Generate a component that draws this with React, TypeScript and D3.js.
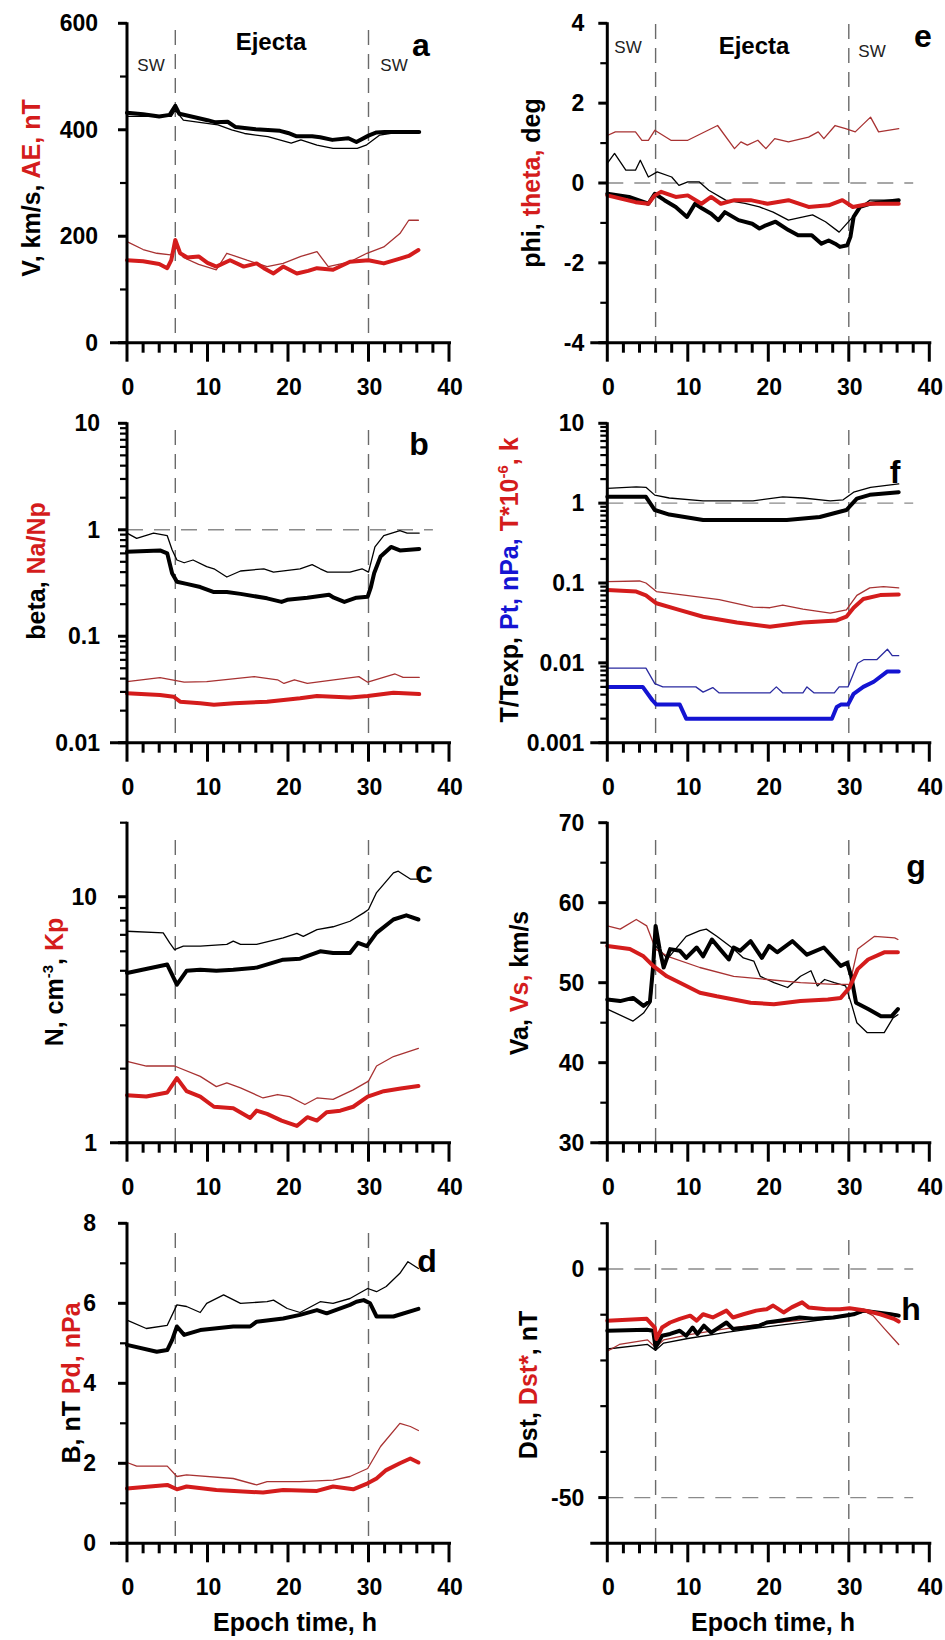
import React from "react";
import * as d3 from "d3";

type Pt = [number, number];

const FONT = "'Liberation Sans', Arial, Helvetica, sans-serif";
const BLACK = "#000000";
const RED = "#d41c1c";
const RED_THIN = "#a83232";
const BLUE = "#1414d2";
const BLUE_THIN = "#2a2aa0";

// Epoch axis
const epochTicks = [0, 10, 20, 30, 40];
const epochLabels = ["0", "10", "20", "30", "40"];
const boundaries = [6, 30];

// ---- Panel a: V (black), AE (red)
const vThick: Pt[] = [[0,432],[2,429],[4,425],[5.3,428],[6,445],[6.5,430],[8,425],[10,418],[11,414],[12.5,415],[13.5,405],[16,401],[19,398],[20,394],[21,388],[23,388],[24,386],[25.5,381],[27.5,384],[28.5,377],[30,389],[31,395],[32,396],[36.3,396]];
const vThin: Pt[] = [[0,425],[5.5,425],[6,437],[7,418],[9,414],[11.3,409],[13,400],[14.6,393],[17.5,387],[20.4,375],[21.6,381],[23.6,371],[25.6,365],[28.6,365],[29.7,371],[31.4,390],[32.6,393],[34,396],[36.3,396]];
const aeThick: Pt[] = [[0,155],[2,153],[4,148],[5,140],[5.5,155],[6,193],[6.6,168],[7.5,160],[8.9,162],[10,150],[11.1,143],[12.8,155],[14.5,143],[16.1,149],[17,140],[18.2,130],[19.4,143],[21.1,130],[22.5,135],[23.6,140],[25.6,137],[27.7,152],[30,155],[31.9,149],[33.9,158],[35,163],[36.2,174]];
const aeThin: Pt[] = [[0,190],[2,175],[3.7,168],[5.4,165],[6.2,180],[7,160],[8.9,147],[11.1,137],[12.4,168],[14.9,155],[17.4,143],[19.4,149],[21.6,162],[23.6,171],[25,143],[27.7,152],[29.8,168],[31.9,180],[33.9,205],[35,230],[36.2,230]];

// ---- Panel b: beta (black), Na/Np (red)
const betaThick: Pt[] = [[0,0.62],[4.1,0.64],[5,0.6],[5.6,0.39],[6.2,0.325],[7.4,0.31],[9.1,0.29],[10.8,0.26],[12.4,0.26],[14.1,0.25],[17.4,0.227],[19.2,0.21],[19.9,0.22],[22.4,0.23],[25.1,0.245],[25.7,0.23],[27,0.21],[28.5,0.23],[29.9,0.235],[30.3,0.29],[30.7,0.39],[31.5,0.56],[32.8,0.69],[33.9,0.64],[36.3,0.66]];
const betaThin: Pt[] = [[0,0.93],[1.2,0.83],[3.3,0.93],[5,0.88],[5.6,0.65],[6.2,0.52],[7.1,0.49],[8.2,0.52],[9.9,0.45],[10.8,0.43],[12.4,0.36],[14.1,0.41],[17,0.43],[18.2,0.4],[21.5,0.43],[23,0.47],[24,0.43],[24.9,0.4],[27.7,0.4],[29.2,0.43],[30,0.4],[30.8,0.69],[31.9,0.88],[33.9,0.98],[34.8,0.93],[36.3,0.93]];
const naThick: Pt[] = [[0,0.0291],[4.1,0.028],[5.8,0.027],[6.6,0.0243],[9.1,0.0235],[10.8,0.0227],[13.3,0.0235],[17.4,0.0243],[21.5,0.0262],[23.6,0.0275],[27.7,0.0266],[29.9,0.0275],[33.1,0.0295],[36.3,0.0286]];
const naThin: Pt[] = [[0,0.0374],[4.1,0.0408],[7.1,0.037],[9.9,0.0374],[15.8,0.0417],[18.7,0.039],[19.5,0.036],[20.8,0.039],[22.4,0.036],[25.7,0.039],[28.8,0.0417],[29.9,0.037],[33.3,0.0442],[34.3,0.041],[36.3,0.041]];

// ---- Panel c: N (black), Kp (red)
const nThick: Pt[] = [[0,4.9],[5,5.3],[6.2,4.39],[7.4,5.0],[9.1,5.05],[11.1,5.0],[13.2,5.05],[16.1,5.15],[19.4,5.55],[21.5,5.6],[24,6.0],[25.6,5.9],[27.7,5.9],[28.7,6.5],[29.8,6.3],[31,7.13],[33.1,8.08],[34.7,8.4],[36.2,8.08]];
const nThin: Pt[] = [[0,7.24],[4.5,7.13],[5.3,6.49],[5.9,6.1],[7,6.3],[9.1,6.3],[12.4,6.4],[13.2,6.6],[14.1,6.4],[16.1,6.4],[19.4,6.8],[21.1,7.1],[21.9,6.9],[23.6,7.35],[25.6,7.55],[27.7,7.95],[29.4,8.6],[30,8.88],[31,10.4],[33.1,12.5],[33.7,12.7],[35.2,11.8],[36.2,11.8]];
const kpThick: Pt[] = [[0,1.56],[2.4,1.54],[5,1.6],[6.2,1.83],[7.4,1.62],[9.1,1.54],[10.8,1.4],[13.2,1.38],[15.3,1.26],[16.1,1.35],[17.4,1.31],[19.2,1.23],[21.1,1.17],[22.4,1.27],[23.6,1.23],[24.8,1.33],[26.5,1.35],[28.1,1.4],[29.9,1.54],[31.9,1.62],[34,1.66],[36.2,1.7]];
const kpThin: Pt[] = [[0,2.14],[2.4,2.05],[5.9,2.05],[9.1,1.86],[11.1,1.69],[12.4,1.75],[14.1,1.67],[16.9,1.52],[18.7,1.57],[20.2,1.54],[22.1,1.43],[23.6,1.52],[25.6,1.5],[28.1,1.64],[30,1.78],[31,2.05],[33.1,2.24],[36.2,2.42]];

// ---- Panel d: B (black), Pd (red)
const bThick: Pt[] = [[0,4.96],[3.7,4.79],[5,4.83],[5.6,5.08],[6.2,5.42],[7.1,5.21],[9.1,5.33],[13.2,5.42],[15.3,5.42],[16.1,5.54],[19.4,5.62],[21.5,5.71],[23.6,5.83],[24.8,5.75],[27.7,5.96],[28.5,6.04],[29.4,6.08],[30.2,6.0],[31,5.67],[33.1,5.67],[36.2,5.86]];
const bThin: Pt[] = [[0,5.58],[2.4,5.37],[5,5.45],[6.2,5.96],[7.4,5.92],[9.1,5.77],[9.9,6.0],[12,6.21],[14.1,6.0],[17.4,6.04],[18.2,6.08],[19.9,5.87],[21.5,5.77],[24,6.04],[25.6,6.0],[27.7,6.12],[29.9,6.37],[31,6.29],[32.2,6.42],[33.9,6.75],[34.9,7.04],[36.2,6.87]];
const pdThick: Pt[] = [[0,1.37],[5,1.46],[6.2,1.35],[7.4,1.42],[11.1,1.33],[16.9,1.27],[19.4,1.33],[23.6,1.31],[25.6,1.42],[28.1,1.35],[29.9,1.5],[31,1.62],[32.2,1.83],[33.9,2.0],[35.2,2.12],[36.2,2.02]];
const pdThin: Pt[] = [[0,2.02],[1.2,1.93],[5,1.93],[6.2,1.67],[7.4,1.71],[13.2,1.62],[16.1,1.46],[17.4,1.54],[21.5,1.54],[25.6,1.58],[27.7,1.67],[29.9,1.87],[31.5,2.42],[33.9,3.0],[35.2,2.92],[36.2,2.82]];

// ---- Panel e: phi (black), theta (red)
const phiThick: Pt[] = [[0,-0.27],[2.7,-0.35],[5.1,-0.52],[5.9,-0.27],[7.1,-0.43],[8.5,-0.6],[9.9,-0.85],[10.9,-0.52],[11.8,-0.64],[12.9,-0.77],[13.8,-0.93],[14.6,-0.73],[16.3,-0.93],[18,-1.02],[18.9,-1.14],[19.7,-1.06],[20.9,-0.97],[22.5,-1.18],[23.7,-1.31],[25.4,-1.31],[26.6,-1.52],[27.5,-1.44],[28.3,-1.52],[28.9,-1.6],[29.8,-1.56],[30.2,-1.35],[30.6,-0.85],[31.4,-0.6],[32.6,-0.52],[36.2,-0.43]];
const phiThin: Pt[] = [[0,0.49],[0.9,0.74],[2.3,0.32],[3.5,0.32],[4.1,0.57],[5.1,0.15],[6.2,0.28],[8,0.15],[8.9,-0.06],[10,0.03],[11.4,0.03],[12.6,-0.18],[14.7,-0.43],[17.1,-0.51],[18.9,-0.6],[20.6,-0.73],[22.5,-0.93],[25.5,-0.8],[27.1,-0.97],[28.8,-1.23],[30.5,-0.85],[31.2,-0.64],[32.6,-0.43],[36.2,-0.43]];
const thetaThick: Pt[] = [[0,-0.31],[3.5,-0.48],[5.1,-0.52],[5.9,-0.31],[6.7,-0.22],[8.5,-0.35],[10,-0.31],[11.7,-0.52],[12.9,-0.35],[14.1,-0.52],[15.8,-0.43],[17.8,-0.43],[19.9,-0.52],[22.5,-0.43],[25,-0.6],[27.5,-0.56],[29.2,-0.43],[30.5,-0.6],[32.6,-0.52],[36.2,-0.52]];
const thetaThin: Pt[] = [[0,1.19],[1,1.28],[3.5,1.28],[4.3,1.07],[5.1,1.07],[5.9,1.32],[7.9,1.07],[10,1.07],[13.7,1.44],[15.8,0.86],[16.6,1.03],[17.4,0.95],[18.7,1.07],[19.7,0.86],[20.8,1.11],[22.5,1.03],[25,1.15],[26.2,1.28],[26.9,1.11],[28.3,1.44],[29.6,1.36],[30.8,1.28],[32.7,1.65],[33.7,1.28],[36.2,1.36]];

// ---- Panel f: T/Texp (black), T*1e-6 (red), Pt (blue)
const ratioThick: Pt[] = [[0,1.2],[4.8,1.2],[5.9,0.82],[7.7,0.72],[11.9,0.615],[18.1,0.615],[22.3,0.615],[26.4,0.67],[29.7,0.82],[31,1.14],[32.6,1.27],[36.2,1.37]];
const ratioThin: Pt[] = [[0,1.53],[3.6,1.6],[4.8,1.58],[5.9,1.26],[7.7,1.16],[11.9,1.07],[18.1,1.07],[21.8,1.2],[24.3,1.16],[27.7,1.07],[29.3,1.1],[30.6,1.37],[32.7,1.58],[36.2,1.74]];
const tempThick: Pt[] = [[0,0.082],[3.6,0.078],[4.8,0.07],[6.1,0.0557],[8.6,0.047],[11.9,0.0378],[16.1,0.032],[20.2,0.0284],[24.3,0.032],[28.5,0.034],[29.7,0.0378],[30.6,0.049],[31.8,0.063],[33.9,0.0705],[36.2,0.072]];
const tempThin: Pt[] = [[0,0.104],[4,0.106],[4.8,0.1],[6.1,0.078],[9.8,0.07],[13.9,0.062],[18.1,0.05],[20.2,0.049],[21.8,0.053],[24.3,0.047],[27.7,0.042],[29.7,0.046],[31,0.07],[32.6,0.087],[34.3,0.09],[36.2,0.087]];
const ptThick: Pt[] = [[0,0.005],[4.4,0.005],[5.6,0.0034],[6.1,0.003],[9,0.003],[9.8,0.002],[27.9,0.002],[28.5,0.0028],[29,0.003],[29.9,0.003],[30.6,0.0041],[31.8,0.005],[33.1,0.0058],[34.8,0.0078],[36.2,0.0078]];
const ptThin: Pt[] = [[0,0.0086],[4.8,0.0086],[5.9,0.0055],[6.9,0.005],[11,0.005],[11.9,0.0043],[13.1,0.0049],[13.9,0.0042],[20.2,0.0042],[21,0.005],[21.8,0.0042],[24.3,0.0042],[24.8,0.005],[25.7,0.0042],[28.2,0.0042],[28.8,0.005],[29.9,0.005],[31.1,0.0099],[31.9,0.011],[33.5,0.011],[34.8,0.0148],[35.4,0.0123],[36.2,0.0123]];

// ---- Panel g: Va (black), Vs (red)
const vaThick: Pt[] = [[0,47.9],[1.6,47.7],[3.2,48.1],[4.5,47.1],[5.3,47.7],[5.7,52.1],[6.0,57.1],[6.5,54.2],[7.0,51.9],[7.8,54.2],[9.0,54.0],[9.8,53.1],[11.1,54.4],[11.9,53.3],[13.0,55.4],[14.0,54.2],[15.1,52.9],[15.7,54.4],[16.5,54.0],[17.8,55.2],[19.2,53.1],[20.1,54.6],[21.1,53.8],[23.0,55.2],[24.8,53.5],[26.9,54.4],[29.0,52.1],[29.8,52.5],[30.3,50.8],[30.9,47.5],[32.4,46.7],[34,45.8],[35.3,45.8],[36.1,46.7]];
const vaThin: Pt[] = [[0,46.7],[3.2,45.2],[4.5,46.2],[5.4,47.5],[6.0,54.6],[7.5,53.0],[9.8,55.8],[11.5,56.5],[12.3,56.7],[13.6,55.8],[15.7,54.2],[16.9,53.1],[18.2,52.7],[19.0,50.8],[20.7,50.0],[22.4,49.4],[24.0,50.8],[25.3,51.5],[26.1,49.6],[27.0,50.4],[28.2,50.0],[29.6,49.6],[30.4,47.1],[31,45.0],[32.3,43.75],[34.4,43.75],[35.5,45.6],[36.1,46.0]];
const vsThick: Pt[] = [[0,54.6],[2.8,54.2],[4.5,53.3],[5.7,52.1],[7.4,50.8],[9.4,49.8],[11.5,48.75],[13.6,48.3],[17.8,47.5],[20.7,47.3],[24.0,47.7],[27.4,47.9],[29.0,48.1],[30.1,49.4],[31.1,51.7],[32.4,52.9],[34.4,53.8],[36.1,53.8]];
const vsThin: Pt[] = [[0,57.1],[1.6,56.7],[3.6,57.9],[4.9,57.1],[6.0,54.2],[7.5,53.3],[11.5,51.9],[15.7,50.8],[19.9,50.4],[24.0,50.0],[28.2,49.8],[30.1,49.8],[31.1,54.2],[33.2,55.8],[35.7,55.6],[36.1,55.4]];

// ---- Panel h: Dst (black), Dst* (red)
const dstThick: Pt[] = [[0,-13.5],[4.9,-13.3],[5.7,-13.5],[6.0,-17.2],[6.8,-14.6],[7.8,-14.2],[9.0,-13.5],[9.8,-14.6],[10.6,-12.8],[11.2,-14.2],[12.0,-12.4],[12.9,-13.9],[14.8,-11.7],[15.6,-13.1],[17.3,-12.8],[18.9,-12.4],[19.8,-11.7],[21.4,-11.3],[23.9,-10.6],[25.6,-10.9],[28.1,-10.6],[30.6,-9.9],[31.8,-9.1],[33.5,-9.5],[35.2,-9.9],[36.2,-10.2]];
const dstThin: Pt[] = [[0,-17.5],[5,-16.5],[6,-17.8],[7,-16.2],[10,-15.2],[15,-13.8],[20,-12.6],[25,-11.5],[30,-10.3],[32,-9.3],[34,-9.5],[36.2,-10.0]];
const dstStarThick: Pt[] = [[0,-11.3],[4.9,-10.9],[5.9,-12.8],[6.1,-15.3],[6.8,-12.8],[7.8,-11.7],[9.0,-10.9],[10.3,-10.2],[11.1,-11.3],[11.9,-9.9],[13.1,-10.6],[14.8,-9.1],[15.6,-10.6],[16.9,-9.9],[18.5,-9.1],[19.8,-8.8],[20.6,-8.0],[21.9,-9.5],[22.9,-8.4],[24.2,-7.3],[25.0,-8.4],[27.2,-8.8],[28.9,-8.8],[30.1,-8.6],[31.8,-9.0],[33.9,-9.9],[35.6,-10.9],[36.2,-11.5]];
const dstStarThin: Pt[] = [[0,-18.0],[1.5,-16.5],[5,-15.5],[6,-17.2],[7,-15.5],[10,-14.4],[15,-13.0],[20,-11.9],[25,-11.0],[30,-10.0],[31.8,-9.1],[33,-10.2],[34.5,-13.2],[36.2,-16.5]];

// Tick values / labels
const aMajor = [0, 200, 400, 600]; const aLabels = ["0", "200", "400", "600"]; const aMinor = [100, 300, 500];
const bMajor = [0.01, 0.1, 1, 10]; const bLabels = ["0.01", "0.1", "1", "10"];
const cMajor = [1, 10]; const cLabels = ["1", "10"]; const cMinor = [2, 3, 4, 5, 6, 7, 8, 9, 20];
const dMajor = [0, 2, 4, 6, 8]; const dLabels = ["0", "2", "4", "6", "8"]; const dMinor = [1, 3, 5, 7];
const eMajor = [-4, -2, 0, 2, 4]; const eLabels = ["-4", "-2", "0", "2", "4"]; const eMinor = [-3, -1, 1, 3];
const fMajor = [0.001, 0.01, 0.1, 1, 10]; const fLabels = ["0.001", "0.01", "0.1", "1", "10"];
const gMajor = [30, 40, 50, 60, 70]; const gLabels = ["30", "40", "50", "60", "70"]; const gMinor = [35, 45, 55, 65];
const hMajor = [-50, 0]; const hLabels = ["-50", "0"]; const hMinor = [-40, -30, -20, -10, 10];

function logMinor(lo: number, hi: number): number[] {
  const out: number[] = [];
  for (let e = Math.round(Math.log10(lo)); e < Math.round(Math.log10(hi)); e++) {
    for (let k = 2; k <= 9; k++) out.push(k * Math.pow(10, e));
  }
  return out;
}

type Line = { data: Pt[]; color: string; width: number };
type Seg = { text: string; color: string; sup?: boolean };

type PanelProps = {
  x0: number; top: number; bottom: number;
  log?: boolean; domain: [number, number];
  major: number[]; labels: string[]; minor: number[];
  labelGap: number;
  hLines: number[];
  lines: Line[];
  title: Seg[]; titleX: number; titleY: number;
  letter: string; letterX: number; letterY: number;
  vTop: number;
  xTitle?: boolean; xTitleX?: number;
  header?: { sw1: [number, number]; ej: [number, number]; sw2: [number, number] };
};

function Panel(p: PanelProps) {
  const xs = d3.scaleLinear().domain([0, 40]).range([p.x0, p.x0 + 322]);
  const ys = p.log
    ? d3.scaleLog().domain(p.domain).range([p.bottom, p.top])
    : d3.scaleLinear().domain(p.domain).range([p.bottom, p.top]);
  const line = d3.line<Pt>().x((d) => xs(d[0])).y((d) => ys(d[1]));
  const minorX = d3.range(0, 41, 2).filter((t) => t % 10 !== 0);
  return (
    <g>
      {boundaries.map((t) => (
        <line key={"v" + t} x1={xs(t)} x2={xs(t)} y1={p.vTop} y2={p.bottom}
          stroke="#6a6a6a" strokeWidth={1.4} strokeDasharray="15,9" />
      ))}
      {p.hLines.map((v) => (
        <line key={"h" + v} x1={xs(0)} x2={xs(38)} y1={ys(v)} y2={ys(v)}
          stroke="#8a8a8a" strokeWidth={1.4} strokeDasharray="16,11" />
      ))}
      {p.lines.map((l, i) => (
        <path key={i} d={line(l.data) || ""} fill="none" stroke={l.color}
          strokeWidth={l.width} strokeLinejoin="round" strokeLinecap="round" />
      ))}
      <line x1={p.x0} x2={p.x0} y1={p.top - 1} y2={p.bottom} stroke="#000" strokeWidth={3} />
      {p.major.map((v) => (
        <line key={"ym" + v} x1={p.x0 - 9} x2={p.x0} y1={ys(v)} y2={ys(v)} stroke="#000" strokeWidth={3} />
      ))}
      {p.minor.map((v) => (
        <line key={"yn" + v} x1={p.x0 - 7} x2={p.x0} y1={ys(v)} y2={ys(v)} stroke="#000" strokeWidth={2.2} />
      ))}
      {p.major.map((v, i) => (
        <text key={"yl" + v} x={p.x0 - p.labelGap} y={ys(v)} dy="0.35em" textAnchor="end"
          fontFamily={FONT} fontWeight="bold" fontSize={23}>{p.labels[i]}</text>
      ))}
      <line x1={p.x0 - 17} x2={p.x0 + 324} y1={p.bottom} y2={p.bottom} stroke="#000" strokeWidth={3} />
      {epochTicks.map((t) => (
        <line key={"xm" + t} x1={xs(t)} x2={xs(t)} y1={p.bottom} y2={p.bottom + 19} stroke="#000" strokeWidth={3} />
      ))}
      {minorX.map((t) => (
        <line key={"xn" + t} x1={xs(t)} x2={xs(t)} y1={p.bottom} y2={p.bottom + 10} stroke="#000" strokeWidth={3} />
      ))}
      {epochTicks.map((t, i) => (
        <text key={"xl" + t} x={xs(t) + 1} y={p.bottom + 52} textAnchor="middle"
          fontFamily={FONT} fontWeight="bold" fontSize={23}>{epochLabels[i]}</text>
      ))}
      {p.xTitle && (
        <text x={p.xTitleX} y={p.bottom + 88} textAnchor="middle" fontFamily={FONT}
          fontWeight="bold" fontSize={25}>Epoch time, h</text>
      )}
      <text transform={`translate(${p.titleX},${p.titleY}) rotate(-90)`} textAnchor="middle"
        fontFamily={FONT} fontWeight="bold" fontSize={25}>
        {p.title.map((s, i) =>
          s.sup ? (
            <tspan key={i} fill={s.color} fontSize={15} dy={-10}>{s.text}</tspan>
          ) : (
            <tspan key={i} fill={s.color} dy={i > 0 && p.title[i - 1].sup ? 10 : 0}>{s.text}</tspan>
          )
        )}
      </text>
      <text x={p.letterX} y={p.letterY} textAnchor="middle" fontFamily={FONT}
        fontWeight="bold" fontSize={32}>{p.letter}</text>
      {p.header && (
        <g fontFamily={FONT}>
          <text x={p.header.sw1[0]} y={p.header.sw1[1]} textAnchor="middle" fontSize={17} fill="#222">SW</text>
          <text x={p.header.ej[0]} y={p.header.ej[1]} textAnchor="middle" fontSize={24} fontWeight="bold">Ejecta</text>
          <text x={p.header.sw2[0]} y={p.header.sw2[1]} textAnchor="middle" fontSize={17} fill="#222">SW</text>
        </g>
      )}
    </g>
  );
}

const LX = 127;
const RX = 607.3;
const rows: [number, number][] = [[23.3, 342.7], [423.3, 742.7], [822.7, 1142.7], [1223.3, 1543.3]];

export default function App() {
  return (
    <svg width={945} height={1640} style={{ position: "absolute", left: 0, top: 0, background: "#fff" }}>
      <rect x={0} y={0} width={945} height={1640} fill="#fff" />
      <Panel x0={LX} top={rows[0][0]} bottom={rows[0][1]} domain={[0, 600]}
        major={aMajor} labels={aLabels} minor={aMinor} labelGap={29} hLines={[]}
        lines={[
          { data: vThin, color: BLACK, width: 1.3 },
          { data: aeThin, color: RED_THIN, width: 1.3 },
          { data: vThick, color: BLACK, width: 4 },
          { data: aeThick, color: RED, width: 4 },
        ]}
        title={[{ text: "V, km/s, ", color: BLACK }, { text: "AE, nT", color: RED }]}
        titleX={40} titleY={188} letter="a" letterX={421} letterY={56} vTop={30}
        header={{ sw1: [151, 71], ej: [271, 50], sw2: [394, 71] }} />
      <Panel x0={LX} top={rows[1][0]} bottom={rows[1][1]} log domain={[0.01, 10]}
        major={bMajor} labels={bLabels} minor={logMinor(0.01, 10)} labelGap={27} hLines={[1]}
        lines={[
          { data: betaThin, color: BLACK, width: 1.3 },
          { data: naThin, color: RED_THIN, width: 1.3 },
          { data: betaThick, color: BLACK, width: 4 },
          { data: naThick, color: RED, width: 4 },
        ]}
        title={[{ text: "beta, ", color: BLACK }, { text: "Na/Np", color: RED }]}
        titleX={45} titleY={571} letter="b" letterX={419} letterY={455} vTop={430} />
      <Panel x0={LX} top={rows[2][0]} bottom={rows[2][1]} log domain={[1, 20]}
        major={cMajor} labels={cLabels} minor={cMinor} labelGap={30} hLines={[]}
        lines={[
          { data: nThin, color: BLACK, width: 1.3 },
          { data: kpThin, color: RED_THIN, width: 1.3 },
          { data: nThick, color: BLACK, width: 4 },
          { data: kpThick, color: RED, width: 4 },
        ]}
        title={[{ text: "N, cm", color: BLACK }, { text: "-3", color: BLACK, sup: true }, { text: ", ", color: BLACK }, { text: "Kp", color: RED }]}
        titleX={63} titleY={982} letter="c" letterX={424} letterY={883} vTop={840} />
      <Panel x0={LX} top={rows[3][0]} bottom={rows[3][1]} domain={[0, 8]}
        major={dMajor} labels={dLabels} minor={dMinor} labelGap={31} hLines={[]}
        lines={[
          { data: bThin, color: BLACK, width: 1.3 },
          { data: pdThin, color: RED_THIN, width: 1.3 },
          { data: bThick, color: BLACK, width: 4 },
          { data: pdThick, color: RED, width: 4 },
        ]}
        title={[{ text: "B, nT ", color: BLACK }, { text: "Pd, nPa", color: RED }]}
        titleX={80} titleY={1383} letter="d" letterX={427} letterY={1272} vTop={1233}
        xTitle xTitleX={295} />
      <Panel x0={RX} top={rows[0][0]} bottom={rows[0][1]} domain={[-4, 4]}
        major={eMajor} labels={eLabels} minor={eMinor} labelGap={23} hLines={[0]}
        lines={[
          { data: phiThin, color: BLACK, width: 1.3 },
          { data: thetaThin, color: RED_THIN, width: 1.3 },
          { data: phiThick, color: BLACK, width: 4 },
          { data: thetaThick, color: RED, width: 4 },
        ]}
        title={[{ text: "phi, ", color: BLACK }, { text: "theta,", color: RED }, { text: " deg", color: BLACK }]}
        titleX={540} titleY={183} letter="e" letterX={923} letterY={47} vTop={24}
        header={{ sw1: [628, 53], ej: [754, 54], sw2: [872, 57] }} />
      <Panel x0={RX} top={rows[1][0]} bottom={rows[1][1]} log domain={[0.001, 10]}
        major={fMajor} labels={fLabels} minor={logMinor(0.001, 10)} labelGap={23} hLines={[1]}
        lines={[
          { data: ratioThin, color: BLACK, width: 1.3 },
          { data: tempThin, color: RED_THIN, width: 1.3 },
          { data: ptThin, color: BLUE_THIN, width: 1.3 },
          { data: ratioThick, color: BLACK, width: 4 },
          { data: tempThick, color: RED, width: 4 },
          { data: ptThick, color: BLUE, width: 4 },
        ]}
        title={[{ text: "T/Texp, ", color: BLACK }, { text: "Pt, nPa, ", color: BLUE }, { text: "T*10", color: RED }, { text: "-6", color: RED, sup: true }, { text: ", k", color: RED }]}
        titleX={518} titleY={580} letter="f" letterX={895} letterY={483} vTop={430} />
      <Panel x0={RX} top={rows[2][0]} bottom={rows[2][1]} domain={[30, 70]}
        major={gMajor} labels={gLabels} minor={gMinor} labelGap={23} hLines={[]}
        lines={[
          { data: vaThin, color: BLACK, width: 1.3 },
          { data: vsThin, color: RED_THIN, width: 1.3 },
          { data: vaThick, color: BLACK, width: 4 },
          { data: vsThick, color: RED, width: 4 },
        ]}
        title={[{ text: "Va, ", color: BLACK }, { text: "Vs,", color: RED }, { text: " km/s", color: BLACK }]}
        titleX={528} titleY={983} letter="g" letterX={916} letterY={877} vTop={840} />
      <Panel x0={RX} top={rows[3][0]} bottom={rows[3][1]} domain={[-60, 10]}
        major={hMajor} labels={hLabels} minor={hMinor} labelGap={23} hLines={[0, -50]}
        lines={[
          { data: dstThin, color: BLACK, width: 1.3 },
          { data: dstStarThin, color: RED_THIN, width: 1.3 },
          { data: dstThick, color: BLACK, width: 4 },
          { data: dstStarThick, color: RED, width: 4 },
        ]}
        title={[{ text: "Dst, ", color: BLACK }, { text: "Dst*", color: RED }, { text: ", nT", color: BLACK }]}
        titleX={537} titleY={1385} letter="h" letterX={911} letterY={1320} vTop={1240}
        xTitle xTitleX={773} />
    </svg>
  );
}
